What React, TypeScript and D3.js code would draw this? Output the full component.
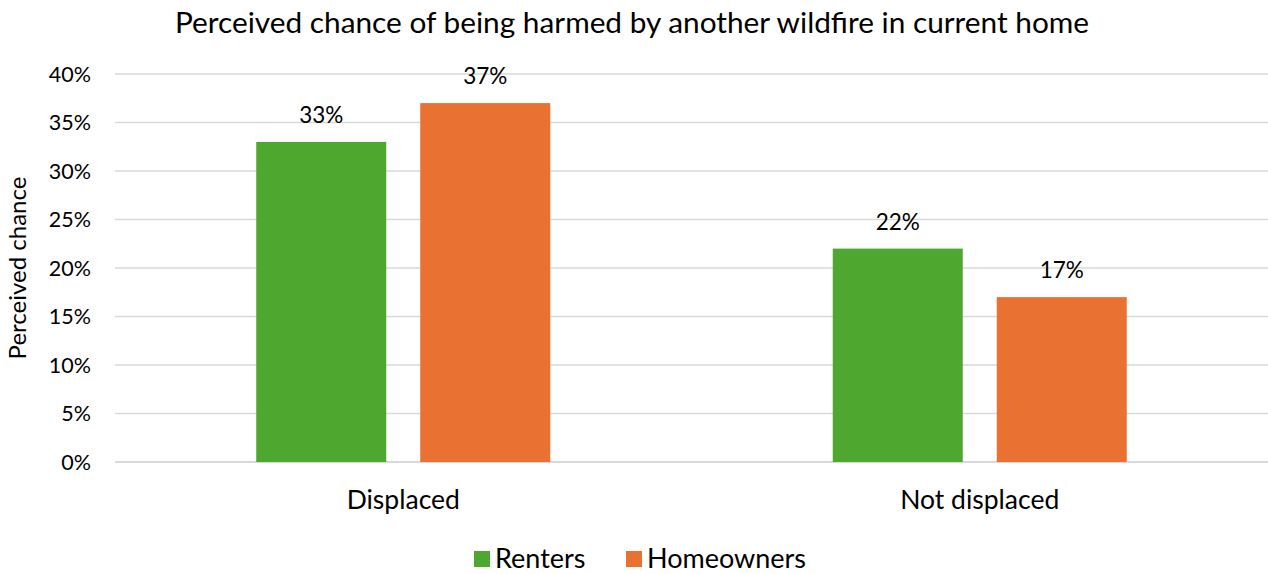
import React from "react";
import * as d3 from "d3";

const categories = ["Displaced", "Not displaced"];
const seriesNames = ["Renters", "Homeowners"];
const renters = [0.33, 0.22];
const homeowners = [0.37, 0.17];
const yTicks = [0, 0.05, 0.1, 0.15, 0.2, 0.25, 0.3, 0.35, 0.4];
const colors = ["#4EA72E", "#E97132"];

const W = 1268;
const H = 574;
const FONT = "Lato, 'Open Sans', sans-serif";

export default function App() {
  const left = 115, right = 1268, top = 74, bottom = 462;
  const x0 = d3.scaleBand<string>().domain(categories).range([left, right]).paddingInner(0).paddingOuter(0);
  const groupW = 294;
  const x1 = d3.scaleBand<string>().domain(seriesNames).range([0, groupW]).paddingInner(34 / 164).paddingOuter(0);
  const y = d3.scaleLinear().domain([0, 0.4]).range([bottom, top]);
  const values = [renters, homeowners];
  const fmt = d3.format(".0%");

  return (
    <svg width={W} height={H} style={{ position: "absolute", left: 0, top: 0, background: "#fff" }} fontFamily={FONT}>
      <text x={632} y={33} textAnchor="middle" fontSize={29.8} fill="#000">
        Perceived chance of being harmed by another wildfire in current home
      </text>
      {yTicks.map((t) => (
        <g key={t}>
          <line x1={left} x2={right} y1={y(t)} y2={y(t)} stroke="#D9D9D9" strokeWidth={t === 0 ? 2 : 1.5} />
          <text x={91} y={y(t)} dy="0.36em" textAnchor="end" fontSize={21.5} fill="#000">
            {fmt(t)}
          </text>
        </g>
      ))}
      <text transform={`translate(26,268) rotate(-90)`} textAnchor="middle" fontSize={24} fill="#000">
        Perceived chance
      </text>
      {categories.map((c, ci) => {
        const gx = (x0(c) as number) + x0.bandwidth() / 2 - groupW / 2;
        return (
          <g key={c}>
            {seriesNames.map((s, si) => {
              const v = values[si][ci];
              const bx = gx + (x1(s) as number);
              return (
                <g key={s}>
                  <rect x={bx} y={y(v)} width={x1.bandwidth()} height={y(0) - y(v)} fill={colors[si]} />
                  <text x={bx + x1.bandwidth() / 2} y={y(v) - 19} textAnchor="middle" fontSize={22.5} fill="#000">
                    {fmt(v)}
                  </text>
                </g>
              );
            })}
            <text x={(x0(c) as number) + x0.bandwidth() / 2} y={509} textAnchor="middle" fontSize={26.5} fill="#000">
              {c}
            </text>
          </g>
        );
      })}
      {seriesNames.map((s, si) => {
        const lx = [474, 626][si];
        return (
          <g key={s}>
            <rect x={lx} y={551} width={16} height={16} fill={colors[si]} />
            <text x={lx + 21} y={568} fontSize={27} fill="#000">
              {s}
            </text>
          </g>
        );
      })}
    </svg>
  );
}
